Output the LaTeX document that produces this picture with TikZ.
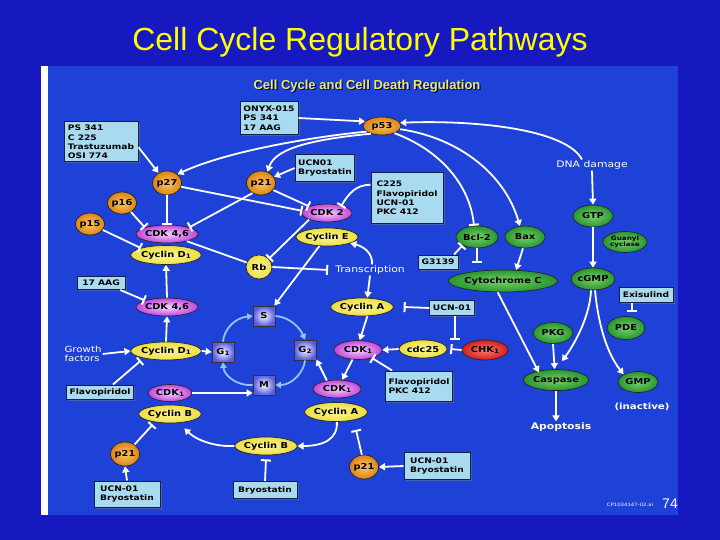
\documentclass[tikz,border=0pt]{standalone}
\usepackage{fontspec}
\setmainfont{Liberation Sans}
\newfontfamily\dvfam[FakeStretch=1.2]{DejaVu Sans}
\usetikzlibrary{shapes.geometric,arrows.meta,shadows}
\definecolor{slidebg}{RGB}{22,24,192}
\definecolor{picbg}{RGB}{30,66,216}
\definecolor{titley}{RGB}{255,255,0}
\definecolor{suby}{RGB}{236,236,96}
\definecolor{boxfill}{RGB}{168,218,240}
\definecolor{boxedge}{RGB}{20,30,70}
\definecolor{ylwin}{RGB}{252,246,150}
\definecolor{ylwout}{RGB}{236,222,70}
\definecolor{purin}{RGB}{250,210,255}
\definecolor{purout}{RGB}{190,70,220}
\definecolor{orin}{RGB}{250,200,100}
\definecolor{orout}{RGB}{220,130,20}
\definecolor{grin}{RGB}{120,210,100}
\definecolor{grout}{RGB}{40,150,50}
\definecolor{redin}{RGB}{255,120,110}
\definecolor{redout}{RGB}{210,30,30}
\definecolor{sqin}{RGB}{250,250,255}
\definecolor{sqout}{RGB}{90,90,225}
\definecolor{cycarrow}{RGB}{150,195,255}
\newcommand\nodefont{\dvfam\bfseries\fontsize{8.2}{9.6}\selectfont}
\newcommand\boxfont{\dvfam\bfseries\fontsize{7.6}{9.4}\selectfont}
\newcommand\labelfont{\dvfam\fontsize{9}{10}\selectfont}
\newcommand\mysub[1]{\raisebox{-1.2pt}{\fontsize{6}{6}\selectfont #1}}
\tikzset{
  ell/.style={ellipse, draw=black!85, line width=0.7pt, inner sep=0pt, font=\nodefont, text=black},
  yel/.style={ell, inner color=ylwin, outer color=ylwout},
  pur/.style={ell, inner color=purin, outer color=purout},
  org/.style={ell, inner color=orin, outer color=orout},
  grn/.style={ell, inner color=grin, outer color=grout},
  rdn/.style={ell, inner color=redin, outer color=redout},
  dbox/.style={rectangle, draw=boxedge, line width=1pt, fill=boxfill, inner xsep=3pt, inner ysep=1pt, font=\boxfont, text=black, align=left,
     drop shadow={shadow xshift=1.5pt, shadow yshift=-1.5pt, opacity=0.45}},
  sq/.style={rectangle, draw=black!80, line width=0.8pt, inner color=sqin, outer color=sqout, minimum width=22pt, minimum height=20pt, inner sep=0pt, font=\nodefont, text=black},
  wlab/.style={text=white, font=\labelfont, inner sep=1pt},
  arr/.style={draw=white, line width=1.8pt, -{Triangle[width=7pt,length=6pt]}},
  inh/.style={draw=white, line width=1.8pt, -{Bar[width=10pt,line width=2pt]}},
  cyc/.style={draw=cycarrow, line width=1.8pt, -{Triangle[width=6.5pt,length=5.5pt]}},
}
\begin{document}
\begin{tikzpicture}[x=1pt,y=-1pt]
\useasboundingbox (0,0) rectangle (720,540);
\fill[slidebg] (0,0) rectangle (720,540);
\fill[white] (41,66) rectangle (48,515);
\fill[picbg] (48,66) rectangle (678,515);

% titles
\node[text=titley, font=\fontsize{32}{36}\selectfont, inner sep=0pt] (title) at (360,42) {Cell Cycle Regulatory Pathways};
\node[text=black!60!blue, font=\bfseries\fontsize{13}{14}\selectfont, inner sep=0pt] (subsh) at (368.2,87.2) {Cell Cycle and Cell Death Regulation};
\node[text=suby, font=\bfseries\fontsize{13}{14}\selectfont, inner sep=0pt] (sub) at (367,86) {Cell Cycle and Cell Death Regulation};

% boxes
\node[dbox, minimum width=58pt, minimum height=33pt] (bONYX) at (269,118) {ONYX-015\\PS 341\\17 AAG};
\node[dbox, minimum width=74pt, minimum height=40pt] (bPS) at (101,142) {PS 341\\C 225\\Trastuzumab\\OSI 774};
\node[dbox, minimum width=56pt, minimum height=27pt] (bUCNa) at (325,168) {UCN01\\Bryostatin};
\node[dbox, minimum width=72pt, minimum height=51pt] (bC225) at (407,198) {C225\\Flavopiridol\\UCN-01\\PKC 412};
\node[dbox, minimum width=48pt, minimum height=13pt] (b17) at (101,283) {17 AAG};
\node[dbox, minimum width=40pt, minimum height=14pt] (bG) at (438,262) {G3139};
\node[dbox, minimum width=38pt, minimum height=15pt] (bUCNb) at (452,308) {UCN-01};
\node[dbox, minimum width=54pt, minimum height=15pt] (bExi) at (646,295) {Exisulind};
\node[dbox, minimum width=66pt, minimum height=14pt] (bFlavo) at (100,392) {Flavopiridol};
\node[dbox, minimum width=66pt, minimum height=30pt] (bFP) at (419,386) {Flavopiridol\\PKC 412};
\node[dbox, minimum width=66pt, minimum height=27pt] (bUCNc) at (437,466) {UCN-01\\Bryostatin};
\node[dbox, minimum width=66pt, minimum height=26pt] (bUCNd) at (127,494) {UCN-01\\Bryostatin};
\node[dbox, minimum width=64pt, minimum height=17pt] (bBryo) at (265,490) {Bryostatin};

% orange
\node[org, minimum width=38pt, minimum height=18pt] (p53) at (382,126) {p53};
\node[org, minimum width=24pt, minimum height=24pt] (p27) at (167,183) {p27};
\node[org, minimum width=24pt, minimum height=24pt] (p21a) at (261,183) {p21};
\node[org, minimum width=22pt, minimum height=22pt] (p16) at (122,203) {p16};
\node[org, minimum width=22pt, minimum height=22pt] (p15) at (90,224) {p15};
\node[org, minimum width=24pt, minimum height=24pt] (p21b) at (125,454) {p21};
\node[org, minimum width=24pt, minimum height=24pt] (p21c) at (364,467) {p21};

% purple
\node[pur, minimum width=50pt, minimum height=18pt] (CDK2) at (327,213) {CDK 2};
\node[pur, minimum width=50pt, minimum height=18pt] (CDK46a) at (167,234) {CDK 4,6};
\node[pur, minimum width=52pt, minimum height=18pt] (CDK46b) at (167,307) {CDK 4,6};
\node[pur, minimum width=48pt, minimum height=19pt] (CDK1a) at (358,350) {CDK\mysub{1}};
\node[pur, minimum width=48pt, minimum height=18pt] (CDK1b) at (337,389) {CDK\mysub{1}};
\node[pur, minimum width=44pt, minimum height=17pt] (CDK1c) at (170,393) {CDK\mysub{1}};

% yellow
\node[yel, minimum width=62pt, minimum height=18pt] (CycE) at (327,237) {Cyclin E};
\node[yel, minimum width=62pt, minimum height=19pt] (CycD1a) at (166,255) {Cyclin D\mysub{1}};
\node[yel, minimum width=62pt, minimum height=18pt] (CycD1b) at (166,351) {Cyclin D\mysub{1}};
\node[yel, minimum width=54pt, minimum height=18pt] (CycAa) at (362,307) {Cyclin A};
\node[yel, minimum width=62pt, minimum height=19pt] (CycAb) at (336,412) {Cyclin A};
\node[yel, minimum width=60pt, minimum height=18pt] (CycBa) at (170,414) {Cyclin B};
\node[yel, minimum width=58pt, minimum height=18pt] (CycBb) at (266,446) {Cyclin B};
\node[yel, minimum width=48pt, minimum height=18pt] (cdc25) at (423,349) {cdc25};
\node[yel, minimum width=26pt, minimum height=24pt] (Rb) at (259,267) {Rb};

% red
\node[rdn, minimum width=46pt, minimum height=20pt] (CHK1) at (485,350) {CHK\mysub{1}};

% green
\node[grn, minimum width=40pt, minimum height=22pt] (GTP) at (593,216) {GTP};
\node[grn, minimum width=44pt, minimum height=21pt, align=center, font=\dvfam\bfseries\fontsize{6}{6}\selectfont] (Guan) at (625,242) {Guanyl\\cyclase};
\node[grn, minimum width=42pt, minimum height=22pt] (Bcl2) at (477,237) {Bcl-2};
\node[grn, minimum width=40pt, minimum height=22pt] (Bax) at (525,237) {Bax};
\node[grn, minimum width=98pt, minimum height=22pt] (CytC) at (503,281) {Cytochrome C};
\node[grn, minimum width=42pt, minimum height=22pt] (cGMP) at (593,279) {cGMP};
\node[grn, minimum width=38pt, minimum height=23pt] (PDE) at (626,328) {PDE};
\node[grn, minimum width=40pt, minimum height=21pt] (PKG) at (553,333) {PKG};
\node[grn, minimum width=62pt, minimum height=21pt] (Casp) at (556,380) {Caspase};
\node[grn, minimum width=40pt, minimum height=21pt] (GMP) at (638,382) {GMP};

% cycle squares
\node[sq] (S) at (264,316) {S};
\node[sq] (G1) at (223,352) {G\mysub{1}};
\node[sq] (G2) at (305,350) {G\mysub{2}};
\node[sq] (M) at (264,385) {M};

% white labels
\node[wlab] (trans) at (370,270) {Transcription};
\node[wlab] (dna) at (592,165) {DNA damage};
\node[wlab, align=left, font=\dvfam\fontsize{8.5}{9}\selectfont] (gf) at (83,354) {Growth\\factors};
\node[wlab, font=\dvfam\bfseries\fontsize{9}{10}\selectfont] (apop) at (561,427) {Apoptosis};
\node[wlab, font=\dvfam\bfseries\fontsize{8.5}{10}\selectfont] (inact) at (642,407) {(inactive)};
\node[wlab, font=\dvfam\fontsize{4.5}{5}\selectfont] (cp) at (630,505) {CP1034147-02.ai};
\node[text=white, font=\fontsize{14}{14}\selectfont, inner sep=0pt] (num) at (670,504) {74};

% connectors: top
\draw[arr] (bONYX.east) -- (p53.165);
\draw[arr] ([xshift=-10pt]dna.north) .. controls (565,128) and (470,120) .. (p53.10);
\draw[arr] (p53.200) .. controls (320,136) and (230,150) .. (p27.40);
\draw[arr] (p53.215) .. controls (305,140) and (275,150) .. (p21a.60);
\draw[inh] (p53.-30) .. controls (440,150) and (470,185) .. (Bcl2.105);
\draw[arr] (p53.-10) .. controls (460,138) and (505,175) .. (Bax.115);
\draw[arr] (bPS.-8) -- (p27.130);
\draw[arr] (bUCNa.west) -- (p21a.25);
\draw[inh] (p27.south) -- (CDK46a.north);
\draw[inh] (p27.-15) -- (CDK2.175);
\draw[inh] (p21a.-130) -- (CDK46a.north east);
\draw[inh] (p21a.-30) -- (CDK2.north west);
\draw[inh] (p16.-45) -- (CDK46a.north west);
\draw[inh] (p15.-25) -- (CycD1a.north west);
\draw[inh] (bC225.160) .. controls (356,185) and (349,193) .. ([xshift=-4pt]CDK2.north east);
\draw[white, line width=1.8pt] (CDK46a.-20) -- (Rb.160);
\draw[inh] (CDK2.south west) -- (Rb.40);
\draw[inh] (Rb.east) -- ([xshift=-6pt]trans.west);
\draw[arr] (CycE.-130) -- (S.45);
\draw[arr] ([xshift=2pt]trans.north) .. controls (373,252) and (362,246) .. (CycE.-15);
\draw[arr] (trans.south) -- (CycAa.60);
\draw[inh] (bUCNb.west) -- ([xshift=10pt]CycAa.east);
\draw[inh] (bUCNb.-70) -- (bUCNb.-70 |- CHK1.north);
\draw[inh] (CHK1.west) -- ([xshift=3pt]cdc25.east);
\draw[arr] (cdc25.west) -- (CDK1a.east);
\draw[arr] (CycAa.-60) -- (CDK1a.80);
\draw[inh] (bFP.150) -- (CDK1a.-30);
\draw[arr] (CDK1a.-120) -- (CDK1b.60);
\draw[arr] (CDK1b.140) -- (G2.-40);
\draw[arr] (CycAb.-85) .. controls (338,440) and (322,446) .. (CycBb.east);
\draw[inh] (p21c.100) -- ([xshift=20pt,yshift=-8pt]CycAb.south);
\draw[arr] (bUCNc.west) -- (p21c.east);
\draw[inh] (bBryo.north) -- ([yshift=-4pt]CycBb.south);
\draw[arr] (CycBb.west) .. controls (215,447) and (196,440) .. ([yshift=-6pt]CycBa.-30);
\draw[inh] (p21b.45) -- ([xshift=5pt,yshift=-4pt]CycBa.south west);
\draw[arr] (bUCNd.north) -- (p21b.south);
\draw[inh] (bFlavo.30) -- ([yshift=-3pt]CycD1b.south west);
\draw[arr] (gf.east) -- (CycD1b.west);
\draw[arr] (CycD1b.east) -- (G1.west);
\draw[arr] (CDK1c.east) -- (M.west |- CDK1c.east);
\draw[arr] (CycD1b.north) -- (CDK46b.south);
\draw[arr] (CDK46b.north) -- (CycD1a.south);
\draw[inh] (b17.-20) -- (CDK46b.north west);

% cell cycle
\draw[cyc] (G1.north) .. controls (224,330) and (234,318) .. (S.west);
\draw[cyc] (S.east) .. controls (290,317) and (300,328) .. (G2.north);
\draw[cyc] (G2.south) .. controls (304,372) and (292,385) .. (M.east);
\draw[cyc] (M.west) .. controls (236,386) and (224,375) .. (G1.south);

% right side
\draw[arr] (dna.south) -- (GTP.north);
\draw[arr] (GTP.south) -- (cGMP.north);
\draw[inh] (bExi.-150) -- ++(0,9);
\draw[arr] ([xshift=-2pt]cGMP.south) .. controls (590,315) and (576,342) .. ([xshift=6pt,yshift=8pt]Casp.north);
\draw[arr] ([xshift=2pt]cGMP.south) .. controls (598,322) and (606,352) .. (GMP.north west);
\draw[arr] (PKG.south) -- (Casp.97);
\draw[arr] (CytC.-115) -- ([xshift=6pt]Casp.north west);
\draw[arr] (Casp.south) -- (Casp.south |- apop.north);
\draw[inh] (Bcl2.south) -- ++(0,15);
\draw[arr] (Bax.-100) -- (CytC.40);
\draw[inh] (bG.25) -- (Bcl2.-150);
\end{tikzpicture}
\end{document}
